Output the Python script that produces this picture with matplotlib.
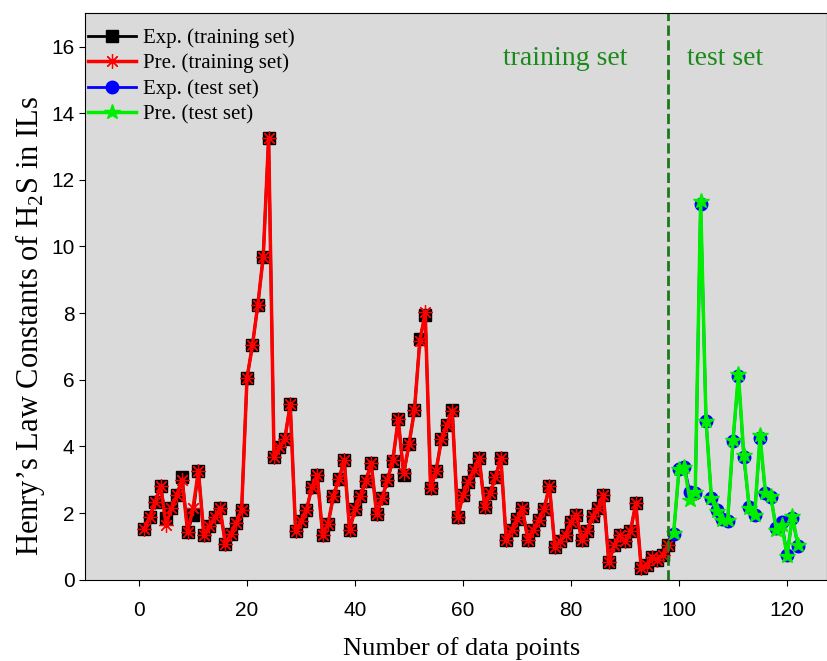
import matplotlib
matplotlib.use("Agg")
import matplotlib.pyplot as plt
import numpy as np

plt.rcParams['font.family'] = ['Liberation Serif', 'DejaVu Serif']
plt.rcParams['mathtext.fontset'] = 'custom'
plt.rcParams['mathtext.rm'] = 'Liberation Serif'

# training set (points 1..98)
exp_train = [1.52, 1.89, 2.32, 2.81, 1.85, 2.14, 2.54, 3.07, 1.43, 1.95,
             3.27, 1.35, 1.61, 1.87, 2.14, 1.07, 1.38, 1.71, 2.09, 6.06,
             7.03, 8.25, 9.69, 13.26, 3.69, 3.97, 4.23, 5.26, 1.45, 1.76,
             2.09, 2.77, 3.14, 1.35, 1.67, 2.51, 3.01, 3.59, 1.50, 2.11,
             2.51, 2.97, 3.49, 1.97, 2.44, 2.99, 3.57, 4.81, 3.14, 4.07,
             5.08, 7.22, 7.93, 2.74, 3.26, 4.21, 4.63, 5.10, 1.88, 2.55,
             2.94, 3.29, 3.64, 2.19, 2.59, 3.07, 3.66, 1.18, 1.50, 1.81,
             2.14, 1.20, 1.50, 1.79, 2.11, 2.82, 0.98, 1.15, 1.35, 1.72,
             1.94, 1.20, 1.45, 1.91, 2.14, 2.54, 0.52, 1.03, 1.35, 1.15,
             1.45, 2.29, 0.35, 0.45, 0.68, 0.60, 0.75, 1.05]
pre_train = [1.52, 1.89, 2.32, 2.81, 1.65, 2.14, 2.54, 2.99, 1.43, 2.15,
             3.27, 1.35, 1.61, 1.87, 2.14, 1.07, 1.38, 1.71, 2.09, 6.06,
             7.03, 8.25, 9.69, 13.26, 3.69, 3.97, 4.23, 5.26, 1.45, 1.76,
             2.09, 2.77, 3.14, 1.35, 1.67, 2.51, 3.01, 3.59, 1.50, 2.11,
             2.51, 2.97, 3.49, 1.97, 2.44, 2.99, 3.60, 4.81, 3.20, 4.07,
             5.08, 7.15, 8.02, 2.74, 3.26, 4.21, 4.63, 5.05, 1.88, 2.55,
             2.94, 3.29, 3.64, 2.19, 2.59, 3.07, 3.66, 1.18, 1.50, 1.81,
             2.14, 1.20, 1.50, 1.79, 2.11, 2.82, 0.98, 1.15, 1.35, 1.72,
             1.94, 1.20, 1.45, 1.91, 2.14, 2.54, 0.52, 1.03, 1.35, 1.15,
             1.45, 2.29, 0.35, 0.45, 0.68, 0.60, 0.75, 1.05]
# test set (points 99..122)
exp_test = [1.38, 3.31, 3.37, 2.62, 2.59, 11.28, 4.76, 2.44, 2.09, 1.81,
            1.77, 4.17, 6.11, 3.67, 2.17, 1.94, 4.24, 2.59, 2.47, 1.55,
            1.74, 0.75, 1.85, 1.02]
pre_test = [1.40, 3.33, 3.37, 2.39, 2.62, 11.36, 4.76, 2.44, 2.05, 1.78,
            1.79, 4.20, 6.16, 3.74, 2.15, 1.94, 4.33, 2.60, 2.50, 1.50,
            1.65, 0.72, 1.90, 1.05]

x_train = np.arange(1, len(exp_train) + 1)
x_test = np.arange(len(exp_train) + 1, len(exp_train) + len(exp_test) + 1)

figure = plt.figure(figsize=(8.27, 6.61), dpi=100)
axes = figure.add_axes([0.1028, 0.123, 0.8972, 0.857])
axes.set_facecolor('#dadada')

axes.plot(x_train, exp_train, color='black', linewidth=2, marker='s',
          markersize=8.7, label='Exp. (training set)')
axes.plot(x_train, pre_train, color='red', linewidth=2.5, marker=(8, 2, 0),
          markersize=10.5, markeredgewidth=0.9, label='Pre. (training set)')
axes.plot(x_test, exp_test, color='blue', linewidth=2, marker='o',
          markersize=9, label='Exp. (test set)')
axes.plot(x_test, pre_test, color='#00ee00', linewidth=2.5, marker='*',
          markersize=11.5, label='Pre. (test set)')

# 구분선 + 글자
axes.axvline(98, color='#1a7a1a', linestyle='--', linewidth=2)
axes.text(78.9, 15.65, 'training set', color='#1a8a1a', fontsize=20,
          ha='center', va='center')
axes.text(108.6, 15.65, 'test set', color='#1a8a1a', fontsize=20,
          ha='center', va='center')

axes.set_xlim(-10, 127.4)
axes.set_ylim(0, 17)
axes.set_xticks(range(0, 121, 20))
axes.set_yticks(range(0, 17, 2))
for lab in axes.get_xticklabels() + axes.get_yticklabels():
    lab.set_family(['Liberation Sans', 'DejaVu Sans'])
axes.tick_params(labelsize=15, direction='out', length=4)
axes.tick_params(axis='x', pad=11)

axes.set_xlabel('Number of data points', fontsize=19)
axes.set_ylabel("Henry\u2019s Law Constants of H$_2$S in ILs", fontsize=22)
axes.yaxis.set_label_coords(-0.051, 0.448)
axes.xaxis.set_label_coords(0.507, -0.102)

axes.legend(loc='upper left', bbox_to_anchor=(-0.007, 0.988), frameon=False,
            fontsize=15, handlelength=2.3, handletextpad=0.33,
            labelspacing=0.27, borderaxespad=0, borderpad=0.4)

plt.savefig('out.png')
